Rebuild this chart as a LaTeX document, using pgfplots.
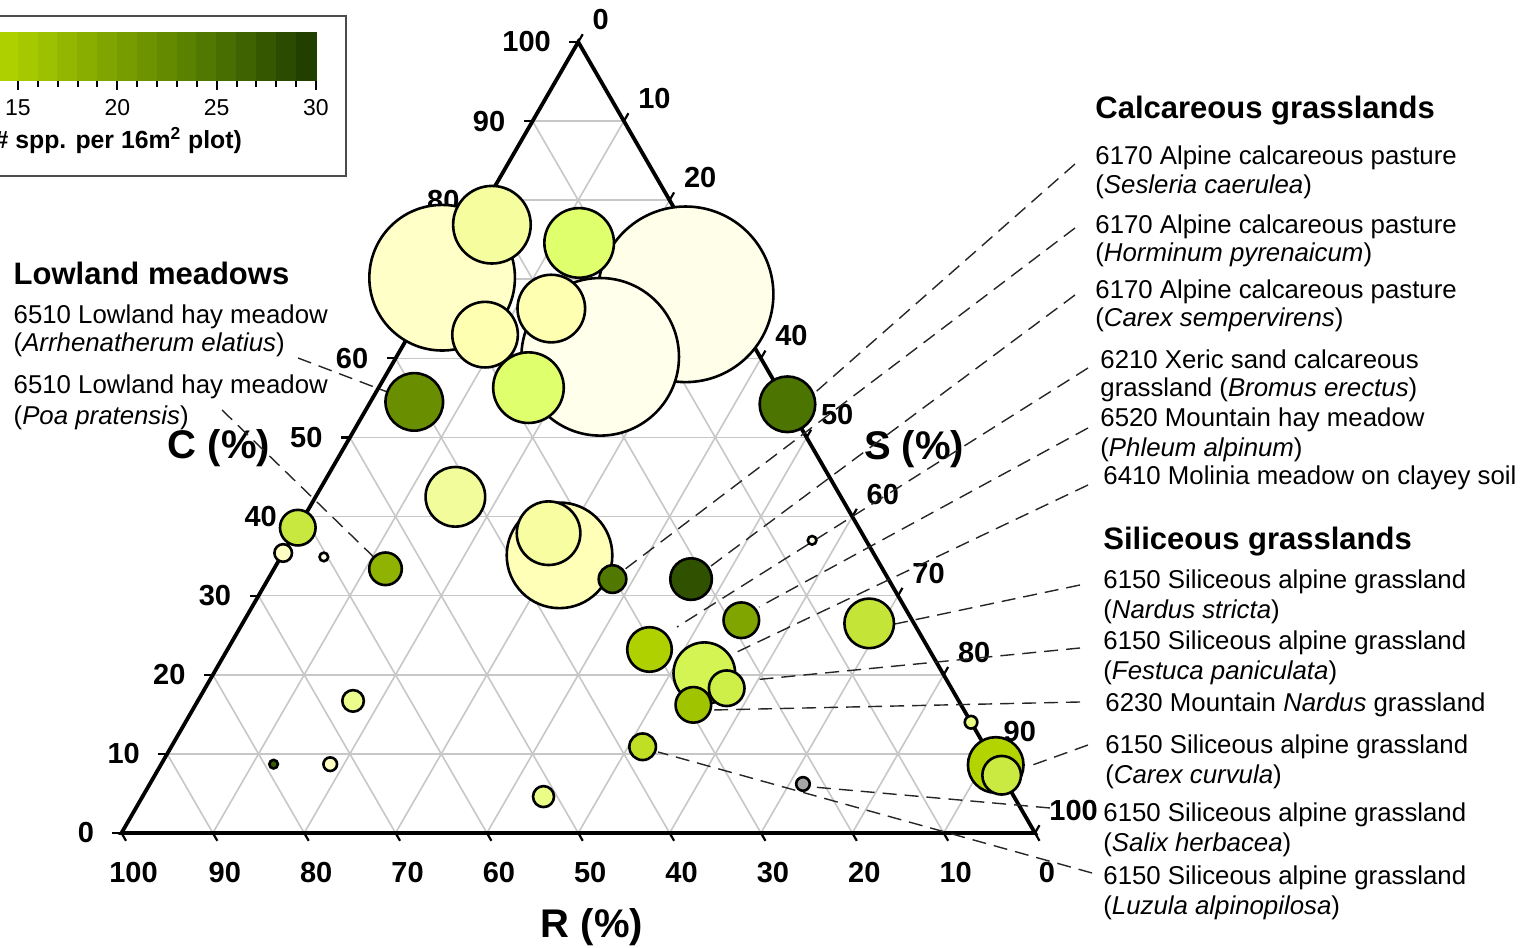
\documentclass[border=0pt]{standalone}
\usepackage{fontspec}
\setmainfont{Liberation Sans}
\usepackage{pgfplots}
\usepackage{pgfplotstable}
\pgfplotsset{compat=1.18}

% C, S, R in percent; r = bubble radius (px of reference); m = species per plot (colour)
\pgfplotstableread{
C S R r m
68.1 27.7 4.2 89 0.5
60.2 22.3 17.5 80 0.3
70.2 0.0 29.8 74 2.8
35.1 30.4 34.5 54 4.2
76.9 2.1 21.0 40 6.5
56.3 16.4 27.3 36.5 9
74.6 12.8 12.6 36 9
66.3 13.9 19.8 35 4.8
63.0 8.3 28.7 34 4.8
37.9 27.8 34.3 33 6.3
20.2 53.7 26.1 32 10.5
42.5 15.3 42.2 31 6.8
54.5 4.8 40.7 30 22
54.2 45.8 0.0 29 25
8.6 91.4 0.0 29 14
26.5 68.6 4.9 26 12.5
23.2 46.2 30.6 23.5 14.4
32.1 46.3 21.6 22 28
7.3 92.7 0.0 20.5 11.8
38.6 0.0 61.4 19 12
26.9 54.4 18.7 19 19.5
18.3 57.1 24.6 19 11.3
16.2 54.5 29.3 19 16
33.4 12.2 54.4 17.5 18
32.1 37.7 30.2 15 24.5
10.9 51.6 37.5 14.5 13
16.7 17.0 66.3 12 7.5
4.6 43.9 51.5 11.7 7.8
35.4 0.0 64.6 10 3
8.7 18.5 72.8 8 3
14.0 86.0 0.0 7.5 8
34.9 4.7 60.4 5.5 0.5
37.0 57.1 5.9 5.5 0.5
8.7 12.3 79.0 5.5 27
}\bubbles

\pgfplotstableread{
C S R r
6.2 71.5 22.3 8
}\graybubble

% colour scale bands (species per plot)
\pgfplotstableread{
k h
0.5 0
1.5 0
2.5 0
3.5 0
4.5 0
5.5 0
6.5 0
7.5 0
8.5 0
9.5 0
10.5 0
11.5 0
12.5 0
13.5 0
14.5 0
15.5 0
16.5 0
17.5 0
18.5 0
19.5 0
20.5 0
21.5 0
22.5 0
23.5 0
24.5 0
25.5 0
26.5 0
27.5 0
28.5 0
29.5 0
}\bands

\newcommand\ftxt{\fontsize{12.9}{14}\selectfont}
\newcommand\fhead{\bfseries\fontsize{15.5}{17}\selectfont}
\newcommand\ftick{\bfseries\fontsize{14.5}{16}\selectfont}
\newcommand\ftitle{\bfseries\fontsize{20}{22}\selectfont}

\tikzset{
  gridl/.style={draw=black!22, line width=0.8pt},
  tickl/.style={draw=black, line width=1.1pt},
  lead/.style={draw=black!85, line width=0.7pt, dash pattern=on 7pt off 4pt},
  txt/.style={anchor=base west, inner sep=0pt, font=\ftxt},
  hd/.style={anchor=base west, inner sep=0pt, font=\fhead},
}

\begin{document}
\begin{tikzpicture}
\begin{axis}[
  name=main,
  width=764pt, height=474pt, scale only axis,
  xmin=0, xmax=1528, ymin=0, ymax=948,
  axis lines=none, clip=false,
  colormap={spp}{[1cm] rgb255(0cm)=(255,255,240); rgb255(6cm)=(255,255,196);
    rgb255(10cm)=(255,255,176); rgb255(14cm)=(242,252,152); rgb255(18cm)=(224,255,108);
    rgb255(22cm)=(208,240,76); rgb255(25cm)=(196,228,56); rgb255(28cm)=(180,212,0);
    rgb255(34cm)=(152,188,0); rgb255(40cm)=(124,160,0); rgb255(50cm)=(76,116,0);
    rgb255(60cm)=(28,58,0)},
  point meta min=0, point meta max=30,
]
% legend frame
\draw[draw=black!70, line width=0.8pt] (axis cs:-10,932) rectangle (axis cs:345.7,772);
% colour scale
\addplot[scatter, only marks, mark=square*, mark size=12pt, scatter src=explicit,
  scatter/use mapped color={draw=mapped color, fill=mapped color, line width=0.3pt, xscale=0.414}]
  table[x expr={316-19.87*(30-\thisrow{k})}, y expr={892+\thisrow{h}}, meta=k] {\bands};
\draw[black, line width=1pt] (axis cs:{316-19.87*30},868) -- (axis cs:316,868);
\pgfplotsinvokeforeach{0,...,30}{
  \draw[black, line width=1pt] (axis cs:{316-19.87*(30-#1)},868) -- (axis cs:{316-19.87*(30-#1)},861);
}
\pgfplotsinvokeforeach{15,20,25,30}{
  \draw[black, line width=1pt] (axis cs:{316-19.87*(30-#1)},868) -- (axis cs:{316-19.87*(30-#1)},857.5);
  \node[inner sep=0pt, font=\fontsize{11.5}{12}\selectfont] at (axis cs:{316-19.87*(30-#1)},840.5) {#1};
}
\node[anchor=base east, inner sep=0pt, font=\bfseries\fontsize{12.4}{13}\selectfont] at (axis cs:242.3,799.7) {(\# spp. per 16m\textsuperscript{2} plot)};

% grid
\pgfplotsinvokeforeach{10,20,...,90}{
  \draw[gridl] (axis cs:{121.5+4.5675*#1},{115+7.91*#1}) -- (axis cs:{121.5+9.135*(100-0.5*#1)},{115+7.91*#1});
  \draw[gridl] (axis cs:{121.5+9.135*#1},115) -- (axis cs:{121.5+9.135*(50+0.5*#1)},{115+7.91*(100-#1)});
  \draw[gridl] (axis cs:{121.5+9.135*(100-#1)},115) -- (axis cs:{121.5+4.5675*(100-#1)},{115+7.91*(100-#1)});
}
% ticks and tick labels
\pgfplotsinvokeforeach{0,10,...,100}{
  \draw[tickl] (axis cs:{121.5+4.5675*#1},{115+7.91*#1}) -- (axis cs:{121.5+4.5675*#1-9},{115+7.91*#1});
  \draw[tickl] (axis cs:{121.5+9.135*(50+0.5*#1)},{115+7.91*(100-#1)}) -- (axis cs:{121.5+9.135*(50+0.5*#1)+4.5},{115+7.91*(100-#1)+7.8});
  \draw[tickl] (axis cs:{121.5+9.135*(100-#1)},115) -- (axis cs:{121.5+9.135*(100-#1)+4.5},107.2);
  \node[anchor=east, inner sep=0pt, font=\ftick] at (axis cs:{121.5+4.5675*#1-27},{115+7.91*#1}) {#1};
  \node[anchor=west, inner sep=0pt, font=\ftick] at (axis cs:{121.5+9.135*(50+0.5*#1)+14},{115+7.91*(100-#1)+22.5}) {#1};
  \node[anchor=center, inner sep=0pt, font=\ftick] at (axis cs:{121.5+9.135*(100-#1)+12},75) {#1};
}
% triangle
\draw[black, line width=1.9pt, line join=miter] (axis cs:121.5,115) -- (axis cs:1035,115) -- (axis cs:578.25,906) -- cycle;

% axis titles
\node[font=\ftitle, inner sep=0pt] at (axis cs:219,500) {C (\%)};
\node[font=\ftitle, inner sep=0pt] at (axis cs:914,499) {S (\%)};
\node[font=\ftitle, inner sep=0pt] at (axis cs:592,21) {R (\%)};

% bubbles
\addplot[scatter, only marks, mark=*, scatter src=explicit,
  scatter/use mapped color={draw=black, fill=mapped color, line width=1.3pt},
  visualization depends on={0.5*\thisrow{r}-0.6 \as \msize},
  scatter/@pre marker code/.append style={/tikz/mark size=\msize}]
  table[x expr={121.5+9.135*(\thisrow{S}+0.5*\thisrow{C})}, y expr={115+7.91*\thisrow{C}}, meta=m] {\bubbles};
\addplot[only marks, mark=*, mark size=3.4pt, mark options={draw=black, fill=black!35, line width=1.3pt}]
  table[x expr={121.5+9.135*(\thisrow{S}+0.5*\thisrow{C})}, y expr={115+7.91*\thisrow{C}}] {\graybubble};

% leader lines
\draw[lead] (axis cs:298,590) -- (axis cs:390,555);
\draw[lead] (axis cs:222,538) -- (axis cs:383,382);
\draw[lead] (axis cs:1075,784) -- (axis cs:810,551);
\draw[lead] (axis cs:1075,720) -- (axis cs:620,375);
\draw[lead] (axis cs:1075,653) -- (axis cs:711,382);
\draw[lead] (axis cs:1088,580) -- (axis cs:677,321);
\draw[lead] (axis cs:1088,520) -- (axis cs:759,341);
\draw[lead] (axis cs:1088,463) -- (axis cs:737,296);
\draw[lead] (axis cs:1080,363) -- (axis cs:895,324);
\draw[lead] (axis cs:1080,300) -- (axis cs:753,268);
\draw[lead] (axis cs:1080,246) -- (axis cs:713,238);
\draw[lead] (axis cs:1088,203) -- (axis cs:1027,181);
\draw[lead] (axis cs:1050,140) -- (axis cs:813,161);
\draw[lead] (axis cs:1092,75) -- (axis cs:658,196);

% left labels
\node[hd] at (axis cs:13.3,663.7) {Lowland meadows};
\node[txt] at (axis cs:13.3,624.7) {6510 Lowland hay meadow};
\node[txt] at (axis cs:13.3,596.3) {(\textit{Arrhenatherum elatius})};
\node[txt] at (axis cs:13.3,554.7) {6510 Lowland hay meadow};
\node[txt] at (axis cs:13.3,523) {(\textit{Poa pratensis})};

% right labels
\node[hd] at (axis cs:1095,829.7) {Calcareous grasslands};
\node[txt] at (axis cs:1095,783) {6170 Alpine calcareous pasture};
\node[txt] at (axis cs:1095,754.7) {(\textit{Sesleria caerulea})};
\node[txt] at (axis cs:1095,714.7) {6170 Alpine calcareous pasture};
\node[txt] at (axis cs:1095,686.3) {(\textit{Horminum pyrenaicum})};
\node[txt] at (axis cs:1095,649.7) {6170 Alpine calcareous pasture};
\node[txt] at (axis cs:1095,621.3) {(\textit{Carex sempervirens})};
\node[txt] at (axis cs:1100,579.7) {6210 Xeric sand calcareous};
\node[txt] at (axis cs:1100,551.3) {grassland (\textit{Bromus erectus})};
\node[txt] at (axis cs:1100,521.3) {6520 Mountain hay meadow};
\node[txt] at (axis cs:1100,491.3) {(\textit{Phleum alpinum})};
\node[txt] at (axis cs:1103,463) {6410 Molinia meadow on clayey soil};

\node[hd] at (axis cs:1103,398.7) {Siliceous grasslands};
\node[txt] at (axis cs:1103,359.7) {6150 Siliceous alpine grassland};
\node[txt] at (axis cs:1103,329.7) {(\textit{Nardus stricta})};
\node[txt] at (axis cs:1103,298) {6150 Siliceous alpine grassland};
\node[txt] at (axis cs:1103,268) {(\textit{Festuca paniculata})};
\node[txt] at (axis cs:1105,236.3) {6230 Mountain \textit{Nardus} grassland};
\node[txt] at (axis cs:1105,194.7) {6150 Siliceous alpine grassland};
\node[txt] at (axis cs:1105,164.7) {(\textit{Carex curvula})};
\node[txt] at (axis cs:1103,126.3) {6150 Siliceous alpine grassland};
\node[txt] at (axis cs:1103,96.3) {(\textit{Salix herbacea})};
\node[txt] at (axis cs:1103,63) {6150 Siliceous alpine grassland};
\node[txt] at (axis cs:1103,33) {(\textit{Luzula alpinopilosa})};
\end{axis}
\pgfresetboundingbox
\path[use as bounding box] (main.south west) rectangle (main.north east);
\end{tikzpicture}
\end{document}
